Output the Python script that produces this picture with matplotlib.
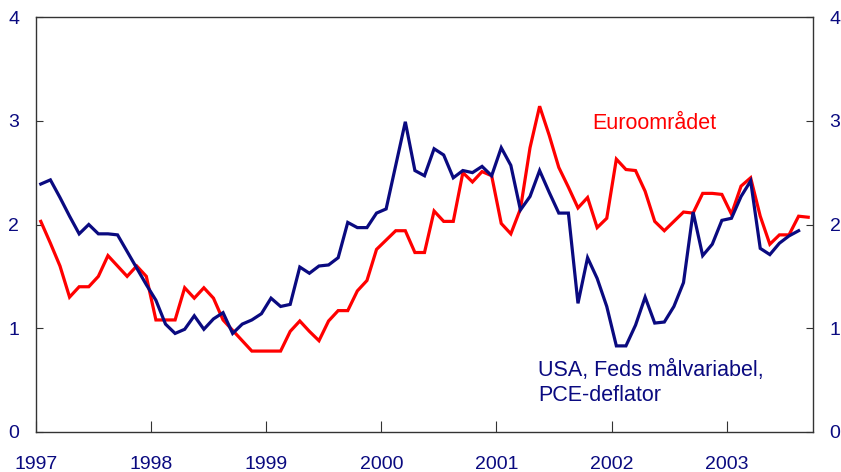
import matplotlib
matplotlib.use("Agg")
import matplotlib.pyplot as plt
import numpy as np

plt.rcParams['font.family'] = ['Liberation Sans', 'DejaVu Sans']

# Monthly observations starting January 1997
start_year = 1997
euro = [2.03, 1.82, 1.60, 1.30, 1.40, 1.40, 1.50, 1.70, 1.60, 1.50, 1.60, 1.50,
        1.08, 1.08, 1.08, 1.39, 1.29, 1.39, 1.29, 1.08, 0.98, 0.88, 0.78, 0.78,
        0.78, 0.78, 0.97, 1.07, 0.97, 0.88, 1.07, 1.17, 1.17, 1.36, 1.46, 1.76,
        1.85, 1.94, 1.94, 1.73, 1.73, 2.13, 2.03, 2.03, 2.50, 2.41, 2.51, 2.47,
        2.01, 1.91, 2.15, 2.74, 3.14, 2.86, 2.55, 2.36, 2.16, 2.26, 1.97, 2.06,
        2.63, 2.53, 2.52, 2.32, 2.03, 1.94, 2.03, 2.12, 2.11, 2.30, 2.30, 2.29,
        2.10, 2.37, 2.45, 2.08, 1.81, 1.90, 1.90, 2.08, 2.07]
usa = [2.39, 2.43, 2.26, 2.08, 1.91, 2.00, 1.91, 1.91, 1.90, 1.74, 1.58, 1.42,
       1.27, 1.04, 0.95, 0.99, 1.12, 0.99, 1.09, 1.15, 0.95, 1.04, 1.08, 1.14,
       1.29, 1.21, 1.23, 1.59, 1.53, 1.60, 1.61, 1.68, 2.02, 1.97, 1.97, 2.11,
       2.15, 2.57, 2.99, 2.52, 2.47, 2.73, 2.67, 2.45, 2.52, 2.50, 2.56, 2.47,
       2.74, 2.57, 2.14, 2.27, 2.52, 2.31, 2.11, 2.11, 1.24, 1.68, 1.48, 1.21,
       0.83, 0.83, 1.03, 1.30, 1.05, 1.06, 1.21, 1.44, 2.12, 1.70, 1.81, 2.04,
       2.06, 2.27, 2.42, 1.77, 1.71, 1.82, 1.89, 1.94]
year_ticks = [1997, 1998, 1999, 2000, 2001, 2002, 2003]
y_ticks = [0, 1, 2, 3, 4]

navy = '#0a0a80'
red = '#ff0000'

x_euro = start_year + (np.arange(len(euro)) + 0.5) / 12
x_usa = start_year + (np.arange(len(usa)) + 0.5) / 12

fig = plt.figure(figsize=(8.41, 4.72), dpi=100)
ax = fig.add_axes([36/841, 1-432/472, (813-36)/841, (432-17)/472])

ax.plot(x_euro, euro, color=red, lw=2.3, solid_joinstyle='miter')
ax.plot(x_usa, usa, color=navy, lw=2.3, solid_joinstyle='miter')

ax.set_xlim(1997, 2003.75)
ax.set_ylim(0, 4)
ax.set_xticks(year_ticks)
ax.set_xticklabels([str(y) for y in year_ticks])
ax.set_yticks(y_ticks)

for s in ax.spines.values():
    s.set_color('#333333')
    s.set_linewidth(1.0)

ax.tick_params(axis='x', direction='in', length=8, width=0.8, color='#333333',
               labelsize=14, labelcolor=navy, pad=17)
ax.tick_params(axis='y', direction='in', length=5, width=0.8, color='#333333',
               labelsize=14, labelcolor=navy, pad=12, left=True, right=True,
               labelleft=True, labelright=True)
for lbl in ax.get_xticklabels():
    lbl.set_x(lbl.get_position()[0])

ax.text(2001.83, 2.97, 'Euroområdet', color=red, fontsize=15.5, va='center', ha='left')
ax.text(2001.36, 0.59, 'USA, Feds målvariabel,', color=navy, fontsize=15.5, va='center', ha='left')
ax.text(2001.36, 0.35, 'PCE-deflator', color=navy, fontsize=15.5, va='center', ha='left')

fig.savefig('out.png', dpi=100)
